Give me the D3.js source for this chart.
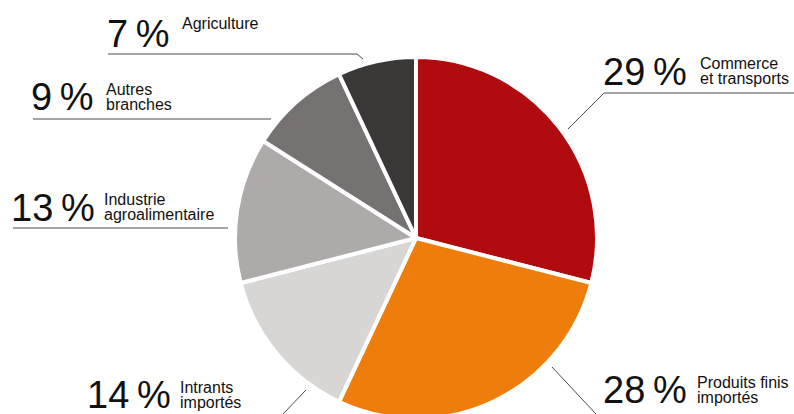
<!DOCTYPE html>
<html>
<head>
<meta charset="utf-8">
<script src="https://cdn.jsdelivr.net/npm/d3@7"></script>
<style>
  body { margin: 0; background: #fff; }
  svg { display: block; font-family: "Liberation Sans", Arial, sans-serif; }
</style>
</head>
<body>
<svg id="chart"></svg>
<script>
// data
var categories = ['Commerce et transports', 'Produits finis importés', 'Intrants importés',
  'Industrie agroalimentaire', 'Autres branches', 'Agriculture'];
var values = [29, 28, 14, 13, 9, 7];
var colors = ['#b00b0e', '#ef7d0b', '#d8d5d5', '#aeaaaa', '#767272', '#3a3737'];
var labelLines = [
  ['Commerce', 'et transports'],
  ['Produits finis', 'importés'],
  ['Intrants', 'importés'],
  ['Industrie', 'agroalimentaire'],
  ['Autres', 'branches'],
  ['Agriculture']
];

// annotation layout: big number position, text position, leader polyline
var annot = [
  {x: 603, y: 85, tx: 700, ty: 69, line: [[794, 93], [604, 93], [568, 129]]},
  {x: 603, y: 403, tx: 697, ty: 388, line: [[596, 414], [552, 367]]},
  {x: 87, y: 408, tx: 180, ty: 393, line: [[283, 414], [306, 390]]},
  {x: 11, y: 221, tx: 104, ty: 205, line: [[13, 228], [228, 228]]},
  {x: 31, y: 110, tx: 106, ty: 95, line: [[33, 119], [271, 119]]},
  {x: 107, y: 47, tx: 182, ty: 29, line: [[108, 54], [357, 54], [363, 59]]}
];

var width = 794, height = 414;
var cx = 416, cy = 238, radius = 181;

var svg = d3.select('#chart')
  .attr('width', width)
  .attr('height', height);

var pie = d3.pie()
  .sort(null)
  .value(function(d) { return d; });

var arc = d3.arc()
  .innerRadius(0)
  .outerRadius(radius);

var g = svg.append('g')
  .attr('transform', 'translate(' + cx + ',' + cy + ')');

g.selectAll('path')
  .data(pie(values))
  .enter()
  .append('path')
  .attr('d', arc)
  .attr('fill', function(d, i) { return colors[i]; })
  .attr('stroke', '#fff')
  .attr('stroke-width', 4)
  .attr('stroke-linejoin', 'round');

var line = d3.line();

var labels = svg.append('g').attr('class', 'labels');

annot.forEach(function(a, i) {
  labels.append('path')
    .attr('d', line(a.line))
    .attr('fill', 'none')
    .attr('stroke', '#4a4a4a')
    .attr('stroke-width', 1);

  labels.append('text')
    .attr('x', a.x)
    .attr('y', a.y)
    .attr('font-size', '38px')
    .attr('fill', '#111')
    .text(values[i] + '\u2009%');

  // small category text, one text element per line
  labelLines[i].forEach(function(s, j) {
    labels.append('text')
      .attr('x', a.tx)
      .attr('y', a.ty + j * 15)
      .attr('font-size', '16px')
      .attr('fill', '#111')
      .text(s);
  });
});
</script>
</body>
</html>
